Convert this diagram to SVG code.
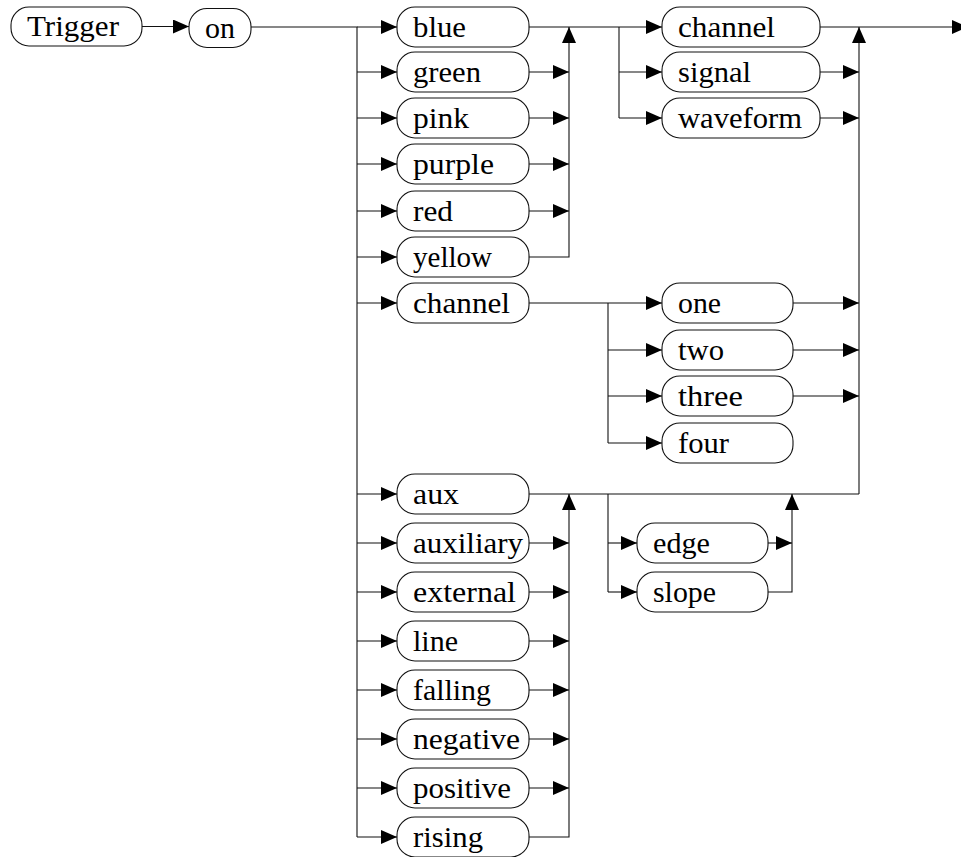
<svg xmlns="http://www.w3.org/2000/svg" width="961" height="857" viewBox="0 0 961 857">
<style>
.box{fill:#fff;stroke:#111;stroke-width:1.1}
text{font-family:'Liberation Serif','DejaVu Serif',serif;font-size:29px;fill:#000}
.c{fill:none;stroke:#111;stroke-width:1.1}
.a{marker-end:url(#ah)}
</style>
<defs>
<marker id="ah" markerUnits="userSpaceOnUse" markerWidth="16" markerHeight="14" refX="16" refY="7" orient="auto" viewBox="0 0 16 14">
<path d="M0,0 L16,7 L0,14 Z" fill="#000"/>
</marker>
</defs>
<rect width="961" height="857" fill="#fff"/>
<g id="connectors">
<path class="c a" d="M142,26.5 H189"/>
<path class="c" d="M251,27 H357 V837"/>
<path class="c a" d="M357,27 H397"/>
<path class="c a" d="M357,72 H397"/>
<path class="c a" d="M357,118 H397"/>
<path class="c a" d="M357,164 H397"/>
<path class="c a" d="M357,211 H397"/>
<path class="c a" d="M357,257 H397"/>
<path class="c a" d="M357,303 H397"/>
<path class="c a" d="M357,494 H397"/>
<path class="c a" d="M357,543 H397"/>
<path class="c a" d="M357,592 H397"/>
<path class="c a" d="M357,641 H397"/>
<path class="c a" d="M357,690 H397"/>
<path class="c a" d="M357,739 H397"/>
<path class="c a" d="M357,788 H397"/>
<path class="c a" d="M357,837 H397"/>
<path class="c a" d="M529,72 H569"/>
<path class="c a" d="M529,118 H569"/>
<path class="c a" d="M529,164 H569"/>
<path class="c a" d="M529,211 H569"/>
<path class="c a" d="M529,257 H569 V27"/>
<path class="c a" d="M529,27 H662"/>
<path class="c" d="M619,27 V118"/>
<path class="c a" d="M619,72 H662"/>
<path class="c a" d="M619,118 H662"/>
<path class="c a" d="M820,27 H968"/>
<path class="c a" d="M820,72 H859"/>
<path class="c a" d="M820,118 H859"/>
<path class="c a" d="M859,494 V27"/>
<path class="c a" d="M529,303 H662"/>
<path class="c" d="M608,303 V443"/>
<path class="c a" d="M608,350 H662"/>
<path class="c a" d="M608,396 H662"/>
<path class="c a" d="M608,443 H662"/>
<path class="c a" d="M793,303 H859"/>
<path class="c a" d="M793,350 H859"/>
<path class="c a" d="M793,396 H859"/>
<path class="c" d="M529,494 H859"/>
<path class="c a" d="M529,543 H569"/>
<path class="c a" d="M529,592 H569"/>
<path class="c a" d="M529,641 H569"/>
<path class="c a" d="M529,690 H569"/>
<path class="c a" d="M529,739 H569"/>
<path class="c a" d="M529,788 H569"/>
<path class="c a" d="M529,837 H569 V494"/>
<path class="c" d="M608,494 V592"/>
<path class="c a" d="M608,543 H637"/>
<path class="c a" d="M608,592 H637"/>
<path class="c a" d="M768,543 H792"/>
<path class="c a" d="M768,592 H792 V494"/>
</g>
<g id="nodes" font-family="Liberation Serif, DejaVu Serif, serif" lengthAdjust="spacingAndGlyphs">
<g id="n-trigger"><rect class="box" x="11" y="7" width="131" height="39" rx="18"/><text x="27" y="36" textLength="92" lengthAdjust="spacingAndGlyphs">Trigger</text></g>
<g id="n-on"><rect class="box" x="189" y="8.5" width="62" height="39" rx="18"/><text x="205" y="38" textLength="30" lengthAdjust="spacingAndGlyphs">on</text></g>
<g id="n-blue"><rect class="box" x="397" y="7" width="132" height="40" rx="18"/><text x="413" y="37" textLength="53" lengthAdjust="spacingAndGlyphs">blue</text></g>
<g id="n-green"><rect class="box" x="397" y="52" width="132" height="40" rx="18"/><text x="413" y="82" textLength="68" lengthAdjust="spacingAndGlyphs">green</text></g>
<g id="n-pink"><rect class="box" x="397" y="98" width="132" height="40" rx="18"/><text x="413" y="128" textLength="56" lengthAdjust="spacingAndGlyphs">pink</text></g>
<g id="n-purple"><rect class="box" x="397" y="144" width="132" height="40" rx="18"/><text x="413" y="174" textLength="81" lengthAdjust="spacingAndGlyphs">purple</text></g>
<g id="n-red"><rect class="box" x="397" y="191" width="132" height="40" rx="18"/><text x="413" y="221" textLength="40" lengthAdjust="spacingAndGlyphs">red</text></g>
<g id="n-yellow"><rect class="box" x="397" y="237" width="132" height="40" rx="18"/><text x="413" y="267" textLength="79" lengthAdjust="spacingAndGlyphs">yellow</text></g>
<g id="n-channel"><rect class="box" x="397" y="283" width="132" height="40" rx="18"/><text x="413" y="313" textLength="97" lengthAdjust="spacingAndGlyphs">channel</text></g>
<g id="n-aux"><rect class="box" x="397" y="474" width="132" height="40" rx="18"/><text x="413" y="504" textLength="46" lengthAdjust="spacingAndGlyphs">aux</text></g>
<g id="n-auxiliary"><rect class="box" x="397" y="523" width="132" height="40" rx="18"/><text x="413" y="553" textLength="110" lengthAdjust="spacingAndGlyphs">auxiliary</text></g>
<g id="n-external"><rect class="box" x="397" y="572" width="132" height="40" rx="18"/><text x="413" y="602" textLength="103" lengthAdjust="spacingAndGlyphs">external</text></g>
<g id="n-line"><rect class="box" x="397" y="621" width="132" height="40" rx="18"/><text x="413" y="651" textLength="45" lengthAdjust="spacingAndGlyphs">line</text></g>
<g id="n-falling"><rect class="box" x="397" y="670" width="132" height="40" rx="18"/><text x="413" y="700" textLength="78" lengthAdjust="spacingAndGlyphs">falling</text></g>
<g id="n-negative"><rect class="box" x="397" y="719" width="132" height="40" rx="18"/><text x="413" y="749" textLength="107" lengthAdjust="spacingAndGlyphs">negative</text></g>
<g id="n-positive"><rect class="box" x="397" y="768" width="132" height="40" rx="18"/><text x="413" y="798" textLength="98" lengthAdjust="spacingAndGlyphs">positive</text></g>
<g id="n-rising"><rect class="box" x="397" y="817" width="132" height="40" rx="18"/><text x="413" y="847" textLength="70" lengthAdjust="spacingAndGlyphs">rising</text></g>
<g id="n-channel2"><rect class="box" x="662" y="7" width="158" height="40" rx="18"/><text x="678" y="37" textLength="97" lengthAdjust="spacingAndGlyphs">channel</text></g>
<g id="n-signal"><rect class="box" x="662" y="52" width="158" height="40" rx="18"/><text x="678" y="82" textLength="73" lengthAdjust="spacingAndGlyphs">signal</text></g>
<g id="n-waveform"><rect class="box" x="662" y="98" width="158" height="40" rx="18"/><text x="678" y="128" textLength="124" lengthAdjust="spacingAndGlyphs">waveform</text></g>
<g id="n-one"><rect class="box" x="662" y="283" width="131" height="40" rx="18"/><text x="678" y="313" textLength="43" lengthAdjust="spacingAndGlyphs">one</text></g>
<g id="n-two"><rect class="box" x="662" y="330" width="131" height="40" rx="18"/><text x="678" y="360" textLength="46" lengthAdjust="spacingAndGlyphs">two</text></g>
<g id="n-three"><rect class="box" x="662" y="376" width="131" height="40" rx="18"/><text x="678" y="406" textLength="65" lengthAdjust="spacingAndGlyphs">three</text></g>
<g id="n-four"><rect class="box" x="662" y="423" width="131" height="40" rx="18"/><text x="678" y="453" textLength="51" lengthAdjust="spacingAndGlyphs">four</text></g>
<g id="n-edge"><rect class="box" x="637" y="523" width="131" height="40" rx="18"/><text x="653" y="553" textLength="57" lengthAdjust="spacingAndGlyphs">edge</text></g>
<g id="n-slope"><rect class="box" x="637" y="572" width="131" height="40" rx="18"/><text x="653" y="602" textLength="63" lengthAdjust="spacingAndGlyphs">slope</text></g>
</g>
</svg>
